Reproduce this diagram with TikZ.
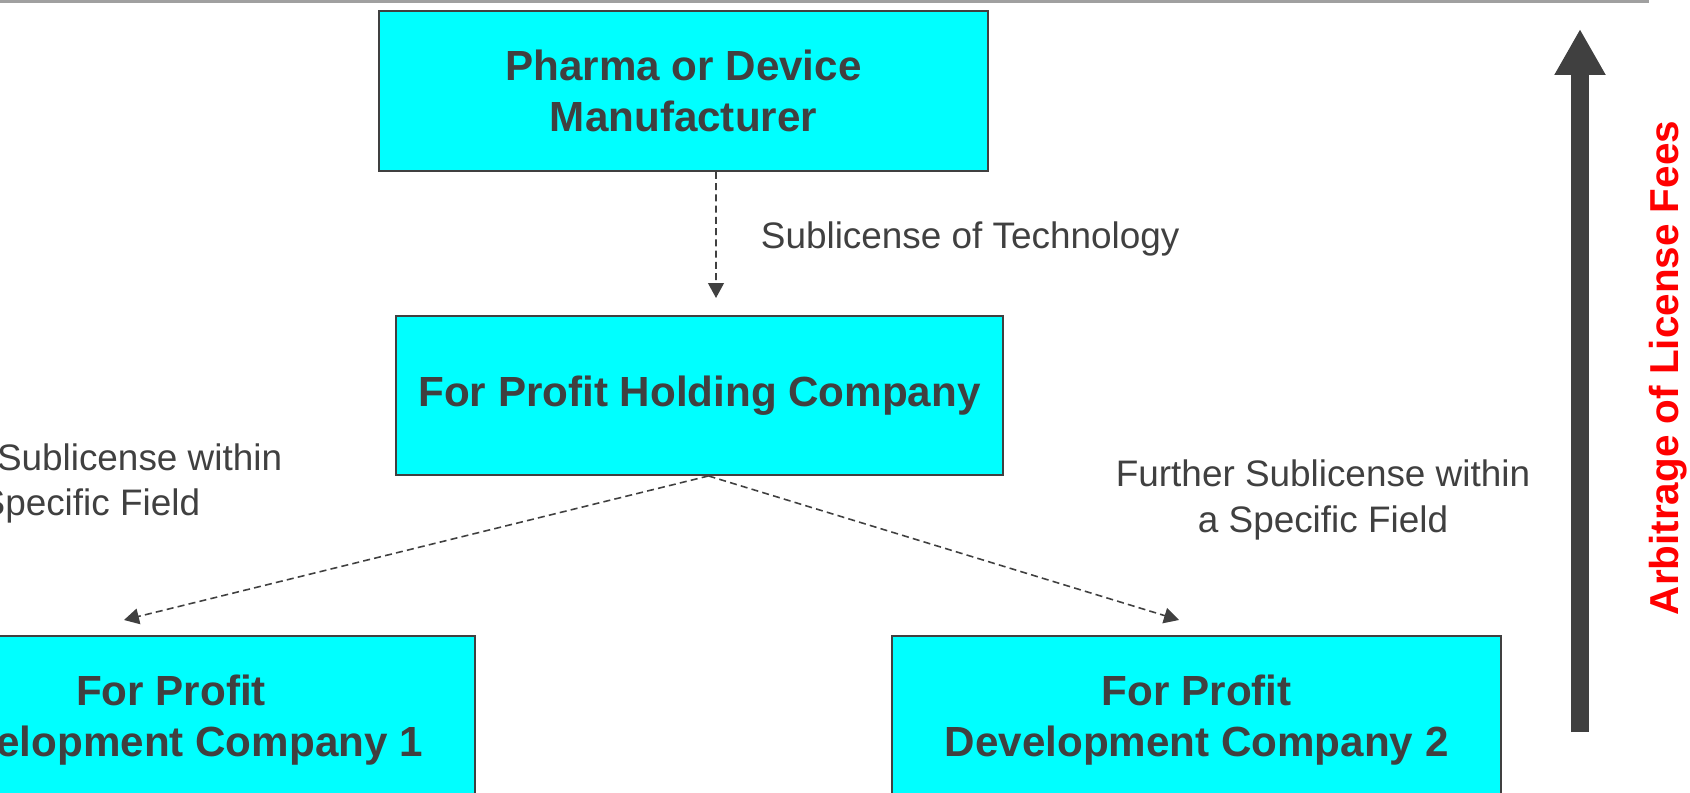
\documentclass[tikz,border=0pt]{standalone}
\usepackage{fontspec}
\setmainfont{Liberation Sans}
\usetikzlibrary{arrows.meta, positioning}
\definecolor{cdark}{HTML}{404040}
\definecolor{ccyan}{HTML}{00FFFF}
\definecolor{crule}{HTML}{A0A0A0}
\definecolor{cred}{HTML}{FF0000}
\tikzset{
  every picture/.style={line width=1.1pt},
  firm/.style={draw=cdark, fill=ccyan, align=center, text=cdark, inner sep=0pt,
    font=\fontsize{24}{29}\selectfont\bfseries, minimum width=12.18cm, minimum height=3.2cm},
  deal/.style={-{Triangle[width=9pt,length=8.5pt]}, draw=cdark, line width=0.9pt, dash pattern=on 4pt off 2.4pt},
  note/.style={font=\fontsize{21}{26}\selectfont, text=cdark, align=center, inner sep=0pt},
}

\begin{document}
\begin{tikzpicture}[x=0.02cm, y=-0.02cm]
  \clip (0,0) rectangle (1690,793);
  \draw[crule, line width=1.2pt] (0,1.5) -- (1649,1.5);

  % the licensing chain
  \node[firm] (maker) at (683.5,91) {Pharma or Device\\Manufacturer};
  \node[firm, minimum width=12.14cm, minimum height=3.18cm] (hold) at (699.5,395.5) {For Profit Holding Company};
  \node[firm, minimum height=3.36cm] (dev1) at (171,720) {For Profit\\Development Company 1};
  \node[firm, minimum height=3.36cm, right=8.3cm of dev1] (dev2) {For Profit\\Development Company 2};

  \coordinate (fork) at ([xshift=0.18cm]hold.south);
  \coordinate (techEnd) at (716,298);
  \coordinate (fieldEndA) at (124,620);
  \coordinate (fieldEndB) at (1179,620);
  \draw[deal] ([xshift=0.65cm]maker.south) -- (techEnd);
  \draw[deal] (fork) -- (fieldEndA);
  \draw[deal] (fork) -- (fieldEndB);

  \node[note, anchor=west] (techlbl) at (760,239) {Sublicense of Technology};
  \node[note] (fieldA) at (75,483.5) {Further Sublicense within\\a Specific Field};
  \node[note] (fieldB) at (1323,500) {Further Sublicense within\\a Specific Field};

  % fee arbitrage arrow on the right
  \coordinate (feeLow) at (1580,732);
  \coordinate (feeTop) at (1580,29);
  \draw[-{Triangle[width=0.96cm,length=0.92cm]}, cdark, line width=0.36cm] (feeLow) -- (feeTop);
  \node[text=cred, rotate=90, font=\fontsize{23}{28}\selectfont\bfseries] (fees) at (1668,368) {Arbitrage of License Fees};
\end{tikzpicture}
\end{document}
